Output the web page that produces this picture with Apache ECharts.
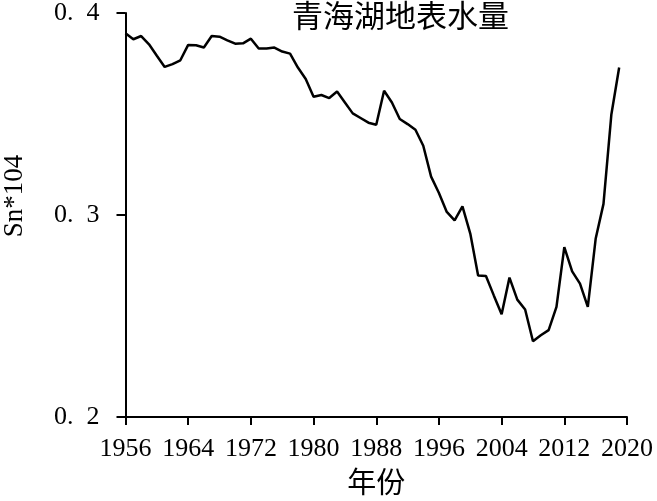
<!DOCTYPE html>
<html>
<head>
<meta charset="utf-8">
<script src="https://cdn.jsdelivr.net/npm/echarts@6/dist/echarts.min.js"></script>
<style>
html,body{margin:0;padding:0;background:#fff;}
#chart{width:657px;height:501px;}
</style>
</head>
<body>
<div id="chart"></div>
<script>
var years = [];
for (var y = 1956; y <= 2019; y++) years.push(y);
var values = [
  0.390, 0.387, 0.3886, 0.3845, 0.3788, 0.3733, 0.3747, 0.3766, 0.3842, 0.384,
  0.3829, 0.3886, 0.3883, 0.3865, 0.3848, 0.385, 0.3873, 0.3824, 0.3824, 0.3829,
  0.3809, 0.3799, 0.373, 0.3673, 0.3585, 0.3594, 0.3579, 0.3611, 0.3557, 0.3503,
  0.348, 0.3457, 0.3447, 0.3615, 0.3557, 0.3475, 0.345, 0.3422, 0.3343, 0.319,
  0.3109, 0.3015, 0.2973, 0.3043, 0.2908, 0.2701, 0.2698, 0.2602, 0.2509, 0.269,
  0.2581, 0.2532, 0.2375, 0.2405, 0.243, 0.2545, 0.2841, 0.2721, 0.266, 0.2545,
  0.2882, 0.3055, 0.3496, 0.373
];
var titleText = '青海湖地表水量';
var xName = '年份';
var yName = 'Sn*104';

var serif = '"Liberation Serif", "DejaVu Serif", serif';
var cjk = '"Noto Sans CJK SC", sans-serif';

var chart = echarts.init(document.getElementById('chart'));
chart.setOption({
  animation: false,
  backgroundColor: '#ffffff',
  grid: {left: 125.5, right: 30, top: 12, bottom: 84, containLabel: false},
  xAxis: {
    type: 'value', min: 1956, max: 2020, interval: 8,
    name: xName, nameLocation: 'middle', nameGap: 50,
    nameTextStyle: {fontFamily: cjk, fontSize: 29, color: '#000'},
    axisLine: {lineStyle: {color: '#000', width: 2}},
    axisTick: {show: true, inside: false, length: 8, lineStyle: {color: '#000', width: 2}},
    axisLabel: {fontFamily: serif, fontSize: 26, color: '#000', margin: 19,
      formatter: function (v) { return String(v); }},
    splitLine: {show: false}
  },
  yAxis: {
    type: 'value', min: 0.2, max: 0.4, interval: 0.1,
    axisLine: {show: true, lineStyle: {color: '#000', width: 2}},
    axisTick: {show: true, inside: false, length: 9, lineStyle: {color: '#000', width: 2}},
    axisLabel: {fontFamily: serif, fontSize: 26, color: '#000', margin: 26,
      formatter: function (v) { return v.toFixed(1).replace('.', '.  '); }},
    splitLine: {show: false}
  },
  graphic: [
    {type: 'text', left: 292, top: 0, style: {text: titleText, font: '31px ' + cjk, fill: '#000'}},
    {type: 'text', x: 15, y: 196, rotation: Math.PI / 2,
     style: {text: yName, font: '27px ' + serif, fill: '#000', textAlign: 'center', textVerticalAlign: 'middle'}}
  ],
  series: [{
    type: 'line',
    data: years.map(function (yr, i) { return [yr, values[i]]; }),
    showSymbol: false,
    lineStyle: {color: '#000', width: 2.5},
    clip: false
  }]
});
</script>
</body>
</html>
